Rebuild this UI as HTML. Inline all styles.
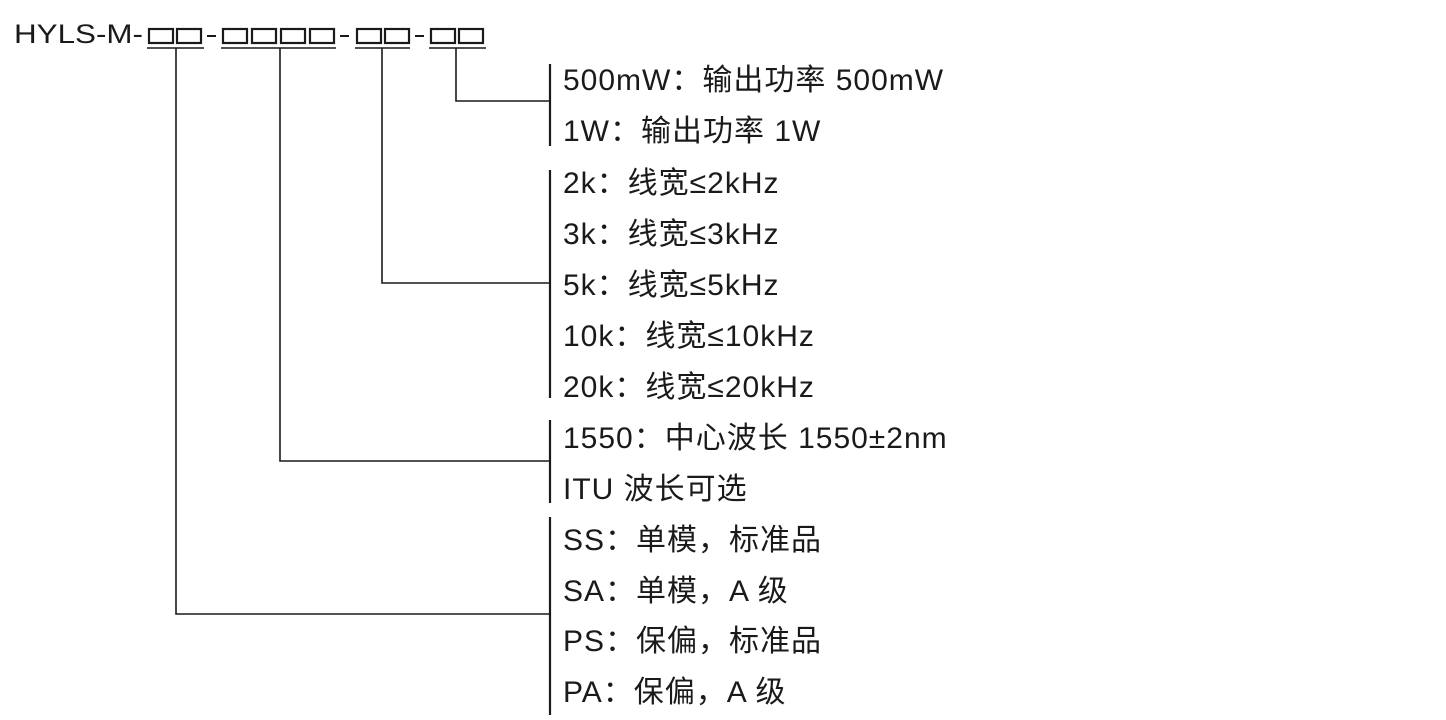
<!DOCTYPE html>
<html><head><meta charset="utf-8"><style>
body{margin:0;background:#fff;width:1446px;height:720px;overflow:hidden;position:relative;font-family:"Liberation Sans","Noto Sans CJK SC",sans-serif;color:#1a1a1a}
.t{position:absolute;left:563px;font-size:30px;letter-spacing:1px;line-height:34px;white-space:nowrap}
svg{position:absolute;left:0;top:0}
</style></head><body>
<svg width="1446" height="720">
<text x="14" y="43" font-family="Liberation Sans, sans-serif" font-size="27" fill="#1a1a1a" textLength="129" lengthAdjust="spacingAndGlyphs">HYLS-M-</text>
<g fill="none" stroke="#1a1a1a" stroke-width="2.2">
<rect x="149" y="29" width="24" height="14"/><rect x="177" y="29" width="24" height="14"/>
<rect x="223" y="29" width="24" height="14"/><rect x="252" y="29" width="24" height="14"/><rect x="281" y="29" width="24" height="14"/><rect x="310" y="29" width="24" height="14"/>
<rect x="357" y="29" width="24" height="14"/><rect x="385" y="29" width="24" height="14"/>
<rect x="431" y="29" width="24" height="14"/><rect x="459" y="29" width="24" height="14"/>
</g>
<g fill="#1a1a1a"><rect x="207" y="35" width="9" height="2"/><rect x="340" y="35" width="9" height="2"/><rect x="415" y="35" width="9" height="2"/></g>
<g stroke="#1a1a1a" stroke-width="1.6" fill="none">
<line x1="147" y1="48" x2="204" y2="48"/><line x1="221" y1="48" x2="336" y2="48"/><line x1="355" y1="48" x2="410" y2="48"/><line x1="429" y1="48" x2="486" y2="48"/>
<polyline points="456,48 456,101 550,101"/>
<polyline points="382,48 382,283 550,283"/>
<polyline points="280,48 280,461 550,461"/>
<polyline points="176,48 176,614 550,614"/>
</g>
<g stroke="#1a1a1a" stroke-width="2.2">
<line x1="550" y1="64" x2="550" y2="146"/>
<line x1="550" y1="170" x2="550" y2="398"/>
<line x1="550" y1="420" x2="550" y2="503"/>
<line x1="550" y1="517" x2="550" y2="715"/>
</g>
</svg>
<div class="t" style="top:64px">500mW：输出功率 500mW</div>
<div class="t" style="top:115px">1W：输出功率 1W</div>
<div class="t" style="top:167px">2k：线宽≤2kHz</div>
<div class="t" style="top:218px">3k：线宽≤3kHz</div>
<div class="t" style="top:269px">5k：线宽≤5kHz</div>
<div class="t" style="top:320px">10k：线宽≤10kHz</div>
<div class="t" style="top:371px">20k：线宽≤20kHz</div>
<div class="t" style="top:422px">1550：中心波长 1550±2nm</div>
<div class="t" style="top:473px">ITU 波长可选</div>
<div class="t" style="top:524px">SS：单模，标准品</div>
<div class="t" style="top:575px">SA：单模，A 级</div>
<div class="t" style="top:625px">PS：保偏，标准品</div>
<div class="t" style="top:676px">PA：保偏，A 级</div>
</body></html>
